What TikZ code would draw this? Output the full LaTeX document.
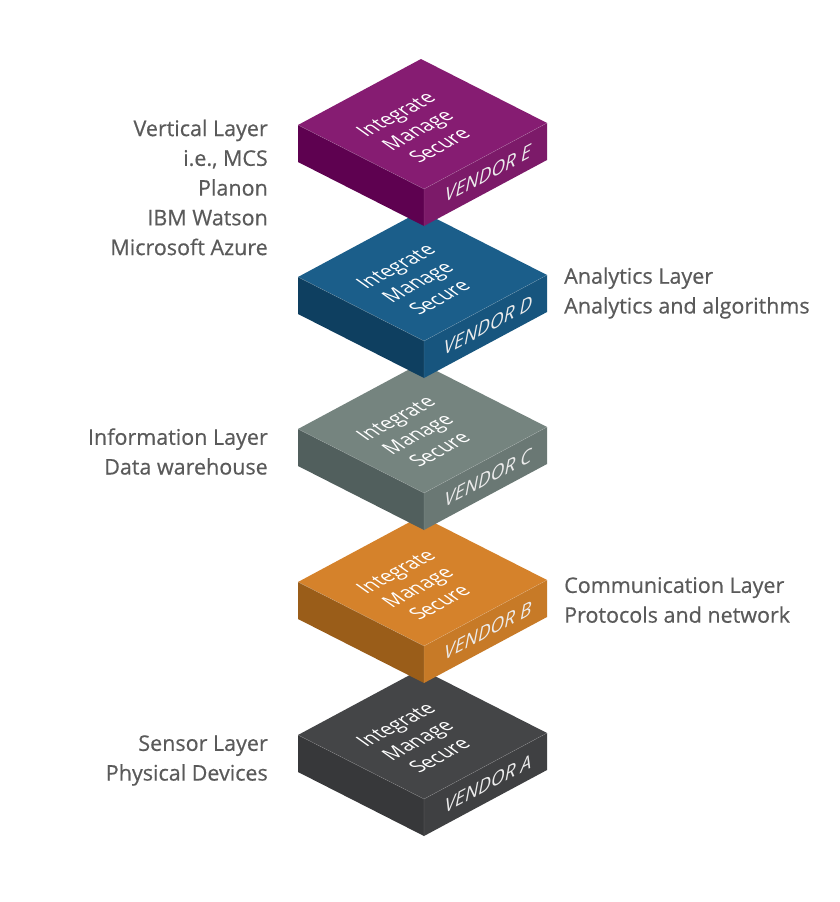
\documentclass[tikz,border=0pt]{standalone}
\usepackage{fontspec}
\setmainfont{Open Sans}
\newfontfamily\labfont{Open Sans}[FakeBold=0.5]
\usepackage{tikz}

\definecolor{labgray}{HTML}{5A5A5A}
\definecolor{topA}{HTML}{444547}
\definecolor{leftA}{HTML}{37383A}
\definecolor{rightA}{HTML}{3F4042}
\definecolor{topB}{HTML}{D5822B}
\definecolor{leftB}{HTML}{9A5D19}
\definecolor{rightB}{HTML}{C77A27}
\definecolor{topC}{HTML}{75847F}
\definecolor{leftC}{HTML}{515F5D}
\definecolor{rightC}{HTML}{6A7874}
\definecolor{topD}{HTML}{1B5E8A}
\definecolor{leftD}{HTML}{0E3F60}
\definecolor{rightD}{HTML}{17557E}
\definecolor{topE}{HTML}{861C72}
\definecolor{leftE}{HTML}{5E0150}
\definecolor{rightE}{HTML}{7C1A69}

\begin{document}
\begin{tikzpicture}[x=1pt,y=-1pt,
  edge/.style={white,opacity=0.25,line width=0.4pt},
  facetext/.style={white,font=\fontsize{19}{24}\selectfont,align=center,inner sep=0pt,transform shape},
  vendor/.style={white!92!black,font=\fontsize{19}{20}\selectfont\itshape,inner sep=0pt,transform shape},
  lab/.style={text=labgray,font=\labfont\fontsize{21.5}{29.75}\selectfont,inner sep=0pt}]
  \fill[white] (0,0) rectangle (840,902);

  % vendor A
  \fill[topA] (298,735) -- ++(126,64) -- ++(123,-66) -- ++(-126,-64) -- cycle;
  \fill[leftA] (298,735) -- ++(126,64) -- ++(0,37) -- ++(-126,-64) -- cycle;
  \fill[rightA] (424,799) -- ++(123,-66) -- ++(0,37) -- ++(-123,66) -- cycle;
  \draw[edge] (298,735) -- ++(126,64) -- ++(123,-66) (424,799) -- ++(0,37);
  \begin{scope}[shift={(417.5,740)},rotate=28,xslant=-0.5]
    \node[facetext] (txtA) at (0,0) {Integrate\\Manage\\Secure};
  \end{scope}
  \begin{scope}[shift={(488,783.5)},yslant=0.53]
    \node[vendor] (vendA) at (0,0) {VENDOR A};
  \end{scope}

  % vendor B
  \fill[topB] (298,582) -- ++(126,64) -- ++(123,-66) -- ++(-126,-64) -- cycle;
  \fill[leftB] (298,582) -- ++(126,64) -- ++(0,37) -- ++(-126,-64) -- cycle;
  \fill[rightB] (424,646) -- ++(123,-66) -- ++(0,37) -- ++(-123,66) -- cycle;
  \draw[edge] (298,582) -- ++(126,64) -- ++(123,-66) (424,646) -- ++(0,37);
  \begin{scope}[shift={(417.5,587)},rotate=28,xslant=-0.5]
    \node[facetext] (txtB) at (0,0) {Integrate\\Manage\\Secure};
  \end{scope}
  \begin{scope}[shift={(488,630.5)},yslant=0.53]
    \node[vendor] (vendB) at (0,0) {VENDOR B};
  \end{scope}

  % vendor C
  \fill[topC] (298,429) -- ++(126,64) -- ++(123,-66) -- ++(-126,-64) -- cycle;
  \fill[leftC] (298,429) -- ++(126,64) -- ++(0,37) -- ++(-126,-64) -- cycle;
  \fill[rightC] (424,493) -- ++(123,-66) -- ++(0,37) -- ++(-123,66) -- cycle;
  \draw[edge] (298,429) -- ++(126,64) -- ++(123,-66) (424,493) -- ++(0,37);
  \begin{scope}[shift={(417.5,434)},rotate=28,xslant=-0.5]
    \node[facetext] (txtC) at (0,0) {Integrate\\Manage\\Secure};
  \end{scope}
  \begin{scope}[shift={(488,477.5)},yslant=0.53]
    \node[vendor] (vendC) at (0,0) {VENDOR C};
  \end{scope}

  % vendor D
  \fill[topD] (298,277) -- ++(126,64) -- ++(123,-66) -- ++(-126,-64) -- cycle;
  \fill[leftD] (298,277) -- ++(126,64) -- ++(0,37) -- ++(-126,-64) -- cycle;
  \fill[rightD] (424,341) -- ++(123,-66) -- ++(0,37) -- ++(-123,66) -- cycle;
  \draw[edge] (298,277) -- ++(126,64) -- ++(123,-66) (424,341) -- ++(0,37);
  \begin{scope}[shift={(417.5,282)},rotate=28,xslant=-0.5]
    \node[facetext] (txtD) at (0,0) {Integrate\\Manage\\Secure};
  \end{scope}
  \begin{scope}[shift={(488,325.5)},yslant=0.53]
    \node[vendor] (vendD) at (0,0) {VENDOR D};
  \end{scope}

  % vendor E
  \fill[topE] (298,125) -- ++(126,64) -- ++(123,-66) -- ++(-126,-64) -- cycle;
  \fill[leftE] (298,125) -- ++(126,64) -- ++(0,37) -- ++(-126,-64) -- cycle;
  \fill[rightE] (424,189) -- ++(123,-66) -- ++(0,37) -- ++(-123,66) -- cycle;
  \draw[edge] (298,125) -- ++(126,64) -- ++(123,-66) (424,189) -- ++(0,37);
  \begin{scope}[shift={(417.5,130)},rotate=28,xslant=-0.5]
    \node[facetext] (txtE) at (0,0) {Integrate\\Manage\\Secure};
  \end{scope}
  \begin{scope}[shift={(488,173.5)},yslant=0.53]
    \node[vendor] (vendE) at (0,0) {VENDOR E};
  \end{scope}

  % layer labels
  \node[lab,anchor=east,align=right] (vertical) at (268,187.5)
    {Vertical Layer\\i.e., MCS\\Planon\\IBM Watson\\Microsoft Azure};
  \node[lab,anchor=west,align=left] (analytics) at (564,293)
    {Analytics Layer\\Analytics and algorithms};
  \node[lab,anchor=east,align=right] (information) at (268,451.5)
    {Information Layer\\Data warehouse};
  \node[lab,anchor=west,align=left] (communication) at (564,600)
    {Communication Layer\\Protocols and network};
  \node[lab,anchor=east,align=right] (sensor) at (268,760.5)
    {Sensor Layer\\Physical Devices};
\end{tikzpicture}
\end{document}
